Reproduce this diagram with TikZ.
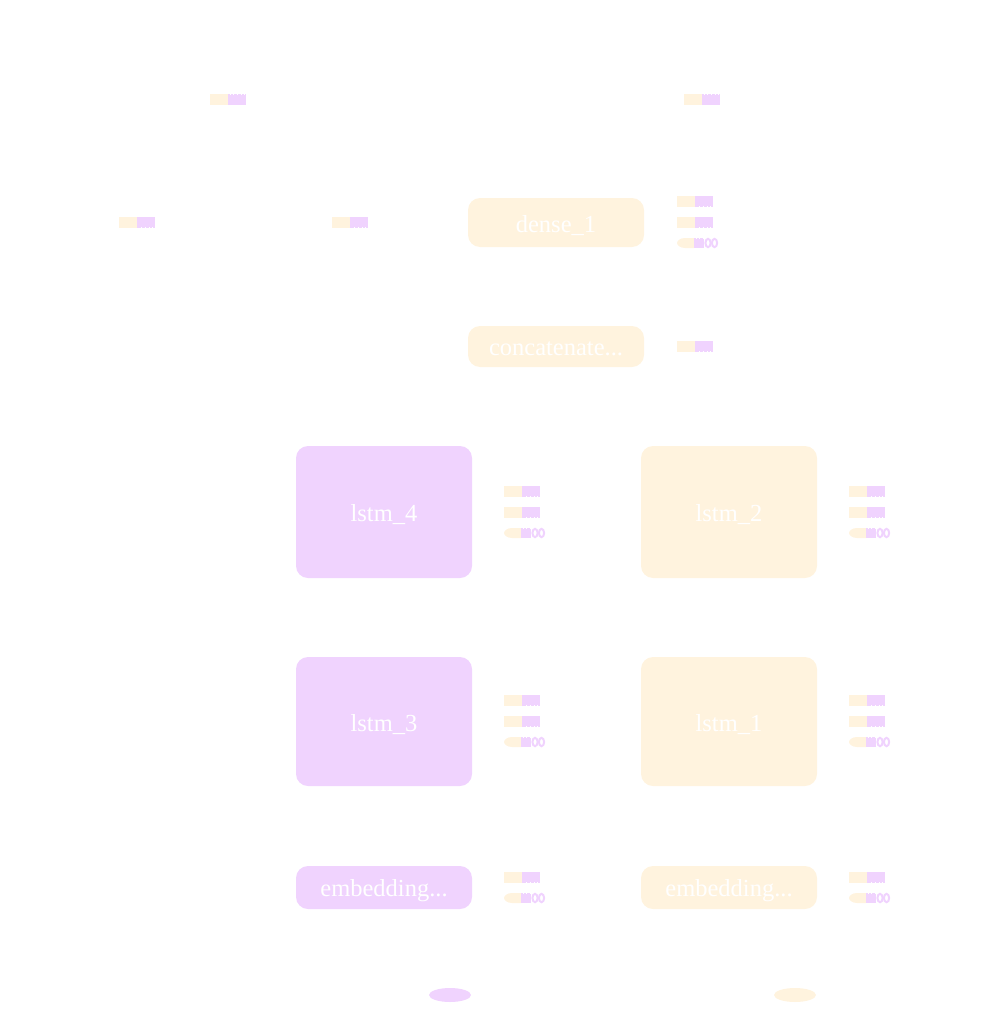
\documentclass[tikz,border=0pt]{standalone}
\usepackage{fontspec}
\setmainfont{Liberation Serif}
\usetikzlibrary{shapes.geometric}
\definecolor{prp}{RGB}{240,211,254}
\definecolor{ylw}{RGB}{255,243,222}
% lower a label a little without changing the box it occupies
\newcommand{\lbl}[1]{\raisebox{-1.5pt}[\dimexpr\height+1.5pt\relax][\dimexpr\depth-1.5pt\relax]{#1}}
\tikzset{
  layer/.style={rounded corners=12pt, inner sep=0pt, text=white,
    font=\fontsize{24.5}{28}\selectfont},
  lyrY/.style={layer, fill=ylw},
  lyrP/.style={layer, fill=prp},
  inport/.style={ellipse, inner sep=0pt, minimum width=42pt, minimum height=14pt},
  % plain tensor glyph: light half + scalloped half
  tensA/.pic={
    \fill[ylw] (0,-5.5) rectangle (18,5.5);
    \fill[prp] (18,-5.5) rectangle (36,5.5);
    \draw[white, line width=0.7, dash pattern=on 0.7 off 3] (19.5,-5.5) -- (36,-5.5) -- (36,5.5) -- (19.5,5.5);
  },
  % state tensor glyph: pointed light half + ringed tail
  tensB/.pic={
    \fill[ylw] (17,-5) -- (8,-5) .. controls (3,-5) and (0,-2) .. (0,0)
      .. controls (0,2) and (3,5) .. (8,5) -- (17,5) -- cycle;
    \fill[prp] (17,-5) rectangle (27,5);
    \draw[white, line width=0.7, dash pattern=on 0.7 off 3] (18.5,-5) -- (27,-5);
    \draw[white, line width=0.7, dash pattern=on 0.7 off 3] (18.5,5) -- (27,5);
    \draw[prp, line width=2] (31,0) ellipse (2.6 and 4.2);
    \draw[prp, line width=2] (37.5,0) ellipse (2.6 and 4.2);
  }
}
\begin{document}
\begin{tikzpicture}[x=1pt, y=-1pt]
\useasboundingbox (0,0) rectangle (991,1014);

% layers
\node[lyrY, minimum width=176pt, minimum height=49pt] (dense) at (556,222.5) {\lbl{dense\_1}};
\node[lyrY, minimum width=176pt, minimum height=41pt] (concat) at (556,346.5) {\lbl{concatenate...}};
\node[lyrP, minimum width=176pt, minimum height=132pt] (lstmfour) at (384,512) {\lbl{lstm\_4}};
\node[lyrY, minimum width=176pt, minimum height=132pt] (lstmtwo) at (729,512) {\lbl{lstm\_2}};
\node[lyrP, minimum width=176pt, minimum height=129pt] (lstmthree) at (384,721.5) {\lbl{lstm\_3}};
\node[lyrY, minimum width=176pt, minimum height=129pt] (lstmone) at (729,721.5) {\lbl{lstm\_1}};
\node[lyrP, minimum width=176pt, minimum height=43pt] (embP) at (384,887.5) {\lbl{embedding...}};
\node[lyrY, minimum width=176pt, minimum height=43pt] (embY) at (729,887.5) {\lbl{embedding...}};

% inputs
\node[inport, fill=prp] (inP) at (450,995) {};
\node[inport, fill=ylw] (inY) at (795,995) {};

% tensor glyphs
\pic at (210,100) {tensA};
\pic at (684,100) {tensA};
\pic at (119,222) {tensA};
\pic at (332,222) {tensA};

\pic at (677,201) {tensA};
\pic at (677,222) {tensA};
\pic at (677,243) {tensB};

\pic at (677,346) {tensA};

\foreach \x in {504,849}{
  \pic at (\x,491) {tensA};
  \pic at (\x,512) {tensA};
  \pic at (\x,533) {tensB};
  \pic at (\x,700) {tensA};
  \pic at (\x,721) {tensA};
  \pic at (\x,742) {tensB};
  \pic at (\x,877) {tensA};
  \pic at (\x,898) {tensB};
}
\end{tikzpicture}
\end{document}
